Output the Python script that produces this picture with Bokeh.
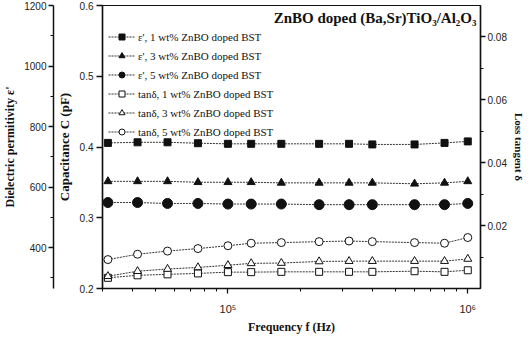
from bokeh.plotting import figure
from bokeh.models import LinearAxis, Range1d, FixedTicker, Legend, LegendItem, Label
from bokeh.embed import file_html
from bokeh.resources import INLINE

# ---- data ----
freq = [31600, 42000, 56000, 75000, 100000, 125000, 167000, 240000, 320000, 400000, 600000, 800000, 1000000]
eps_1wt = [746, 748, 748, 745, 743, 743, 743, 743, 743, 741, 741, 746, 751]
eps_3wt = [619, 619, 619, 616, 616, 616, 614, 614, 614, 614, 611, 614, 619]
eps_5wt = [549, 549, 546, 546, 544, 544, 544, 542, 542, 542, 542, 542, 546]
tan_1wt = [0.0034, 0.0042, 0.0045, 0.0048, 0.0052, 0.0052, 0.0053, 0.0053, 0.0053, 0.0053, 0.0055, 0.0053, 0.0058]
tan_3wt = [0.0039, 0.0055, 0.0062, 0.0067, 0.0074, 0.0080, 0.0081, 0.0086, 0.0087, 0.0087, 0.0087, 0.0087, 0.0094]
tan_5wt = [0.0092, 0.0109, 0.0119, 0.0127, 0.0136, 0.0144, 0.0146, 0.0149, 0.0151, 0.0149, 0.0146, 0.0144, 0.0162]

legend_labels = ["ε', 1 wt% ZnBO doped BST", "ε', 3 wt% ZnBO doped BST", "ε', 5 wt% ZnBO doped BST",
                 "tanδ, 1 wt% ZnBO doped BST", "tanδ, 3 wt% ZnBO doped BST", "tanδ, 5 wt% ZnBO doped BST"]
title_text = "ZnBO doped (Ba,Sr)TiO₃/Al₂O₃"

x_major = [1e5, 1e6]
x_tick_labels = ["10⁵", "10⁶"]
x_minor = [3e4, 4e4, 5e4, 6e4, 7e4, 8e4, 9e4, 2e5, 3e5, 4e5, 5e5, 6e5, 7e5, 8e5, 9e5]
cap_ticks = [0.2, 0.3, 0.4, 0.5, 0.6]
eps_ticks = [400, 600, 800, 1000, 1200]
eps_minor = [300, 500, 700, 900, 1100]
tan_ticks = [0.02, 0.04, 0.06, 0.08]
tan_minor = [0.01, 0.03, 0.05, 0.07]

FW, FH = 378, 283
SERIF = "Liberation Serif"
SANS = "Liberation Sans"
INK = "#111111"

p = figure(frame_width=FW, frame_height=FH, x_axis_type="log",
           x_range=Range1d(30000, 1.13e6), y_range=Range1d(0.2, 0.6),
           output_backend="svg", toolbar_location=None,
           min_border_top=5, min_border_bottom=0, min_border_left=0, min_border_right=0)
p.extra_y_ranges = {"eps": Range1d(265, 1200), "tan": Range1d(0.0, 0.09)}
p.grid.visible = False
p.outline_line_color = INK
p.outline_line_width = 1.2
p.background_fill_color = "white"
p.border_fill_color = "white"


def style_axis(ax, label, size="12px"):
    ax.axis_label = label
    ax.axis_label_text_font = SERIF
    ax.axis_label_text_font_style = "bold"
    ax.axis_label_text_font_size = size
    ax.axis_label_text_color = INK
    ax.major_label_text_font = SANS
    ax.major_label_text_font_size = "10px"
    ax.major_label_text_color = "#222222"
    ax.axis_line_color = INK
    ax.axis_line_alpha = 1.0
    ax.axis_line_width = 1.5
    ax.major_tick_line_color = INK
    ax.major_tick_line_width = 1.3
    ax.minor_tick_line_color = INK
    ax.minor_tick_line_width = 1.1
    ax.major_tick_in = 0
    ax.major_tick_out = 5
    ax.minor_tick_in = 0
    ax.minor_tick_out = 3
    ax.major_label_standoff = 2


# x axis
xa = p.xaxis[0]
style_axis(xa, "Frequency f (Hz)")
xa.ticker = FixedTicker(ticks=x_major, minor_ticks=x_minor)
xa.major_label_overrides = {t: s for t, s in zip(x_major, x_tick_labels)}
xa.major_label_text_font_size = "11px"
xa.major_label_standoff = 9
xa.axis_label_standoff = 2

# inner left (capacitance)
ya = p.yaxis[0]
style_axis(ya, "Capacitance C (pF)", "13px")
ya.ticker = FixedTicker(ticks=cap_ticks, minor_ticks=[])
ya.major_tick_out = 6
ya.major_label_standoff = 3
ya.axis_label_standoff = 5

# outer left (permittivity)
ea = LinearAxis(y_range_name="eps")
style_axis(ea, "Dielectric permitivity ε'")
ea.ticker = FixedTicker(ticks=eps_ticks, minor_ticks=eps_minor)
ea.axis_label_standoff = 4
p.add_layout(ea, "left")

# right (loss tangent)
ta = LinearAxis(y_range_name="tan")
style_axis(ta, "Loss tangent δ", "11px")
ta.ticker = FixedTicker(ticks=tan_ticks, minor_ticks=tan_minor)
ta.axis_label_standoff = 3
p.add_layout(ta, "right")

series = [
    (eps_1wt, "eps", "square", 7, INK),
    (eps_3wt, "eps", "triangle", 8, INK),
    (eps_5wt, "eps", "circle", 10, INK),
    (tan_1wt, "tan", "square", 7, "white"),
    (tan_3wt, "tan", "triangle", 8, "white"),
    (tan_5wt, "tan", "circle", 8, "white"),
]

items = []
for (vals, rng, mk, sz, fill), lab in zip(series, legend_labels):
    lr = p.line(freq, vals, y_range_name=rng, line_color="#333333", line_width=1, line_dash="2 1")
    sr = p.scatter(freq, vals, y_range_name=rng, marker=mk, size=sz,
                   fill_color=fill, line_color=INK, line_width=1)
    items.append(LegendItem(label=lab, renderers=[lr, sr]))

leg = Legend(items=items, location=(6, FH - 20 - 114))
leg.border_line_color = None
leg.background_fill_alpha = 0
leg.label_text_font = SERIF
leg.label_text_font_size = "11px"
leg.label_text_color = INK
leg.glyph_width = 27
leg.glyph_height = 15
leg.label_height = 15
leg.spacing = 4
leg.padding = 2
leg.label_standoff = 3
leg.margin = 0
p.add_layout(leg, "center")

p.add_layout(Label(x=FW - 4, y=FH - 12, x_units="screen", y_units="screen", text=title_text,
                   text_font=SERIF, text_font_style="bold", text_font_size="15px",
                   text_color=INK, text_align="right", text_baseline="middle"))

open("out.html", "w").write(file_html(p, INLINE))
